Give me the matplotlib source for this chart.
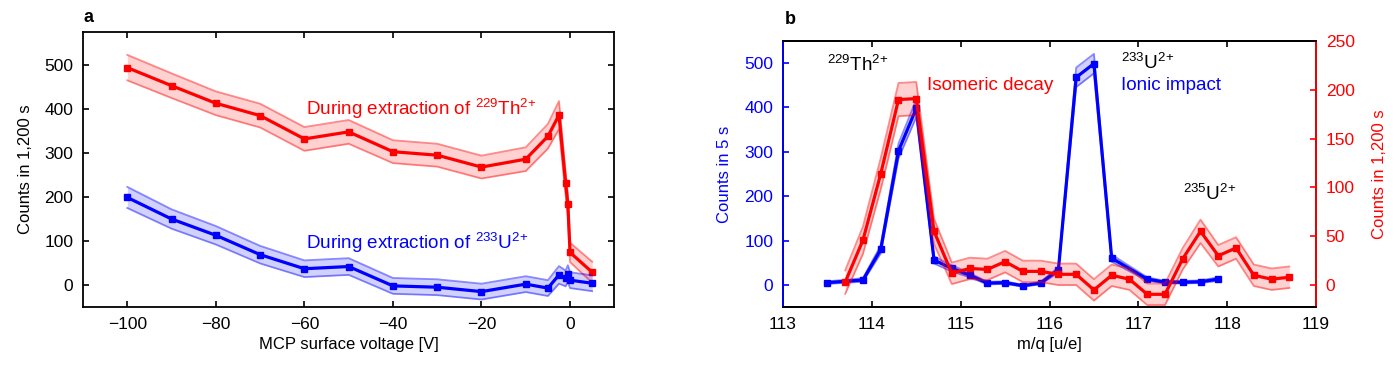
import numpy as np
import matplotlib.pyplot as plt

plt.rcParams['font.family'] = ['Liberation Sans', 'DejaVu Sans']
plt.rcParams['mathtext.fontset'] = 'custom'
plt.rcParams['mathtext.rm'] = 'Liberation Sans'
plt.rcParams['mathtext.it'] = 'Liberation Sans:italic'
plt.rcParams['mathtext.bf'] = 'Liberation Sans:bold'

RED = '#ff0000'
BLUE = '#0000ff'

# panel a: counts vs MCP surface voltage
volt = [-100, -90, -80, -70, -60, -50, -40, -30, -20, -10, -5, -2.5, -1, -0.5, 0, 5]
th_counts = [494, 453, 413, 385, 332, 348, 303, 295, 268, 286, 338, 386, 231, 184, 74, 29]
th_err = [29, 28, 27, 27, 27, 27, 26, 26, 26, 27, 28, 32, 27, 25, 22, 24]
u_counts = [199, 150, 113, 69, 37, 42, -2, -5, -15, 2, -7, 23, 15, 26, 11, 4]
u_err = [24, 22, 21, 20, 19, 19, 18, 18, 18, 18, 18, 20, 18, 19, 18, 18]

# panel b: mass scan
mq_blue = [113.5, 113.9, 114.1, 114.3, 114.5, 114.7, 114.9, 115.1, 115.3, 115.5, 115.7,
           115.9, 116.1, 116.3, 116.5, 116.7, 117.1, 117.3, 117.5, 117.7, 117.9]
ion_counts = [5, 11, 80, 302, 398, 56, 37, 22, 4, 5, -2, 4, 34, 468, 499, 60, 13, 6, 6, 7, 13]
ion_err = [3, 4, 9, 17, 20, 8, 7, 5, 3, 3, 2, 3, 6, 22, 22, 8, 4, 3, 3, 3, 4]

mq_red = [113.7, 113.9, 114.1, 114.3, 114.5, 114.7, 114.9, 115.1, 115.3, 115.5, 115.7,
          115.9, 116.1, 116.3, 116.5, 116.7, 116.9, 117.1, 117.3, 117.5, 117.7, 117.9,
          118.1, 118.3, 118.5, 118.7]
iso_counts = [3, 46, 114, 190, 191, 55, 12, 17, 16, 24, 14, 14, 11, 11, -5, 10, 6,
              -9.5, -9.5, 27, 55, 30, 38, 10, 6, 8]
iso_err = [12, 14, 16, 17, 17, 13, 11, 11, 11, 11, 11, 11, 11, 11, 11, 11, 11,
           11, 11, 11, 12, 11, 11, 11, 11, 11]


def band_line(ax, x, y, e, color):
    x = np.asarray(x)
    y = np.asarray(y, dtype=float)
    e = np.asarray(e, dtype=float)
    ax.fill_between(x, y - e, y + e, color=color, alpha=0.18, lw=0)
    ax.plot(x, y - e, color=color, alpha=0.45, lw=1.3)
    ax.plot(x, y + e, color=color, alpha=0.45, lw=1.3)
    ax.plot(x, y, color=color, lw=2.3, marker='s', ms=5, mec=color, mfc=color)


def iso(mass, sym):
    return r'$^{%d}$%s$^{2\!+}$' % (mass, sym)


fig = plt.figure(figsize=(14, 3.72), dpi=100)
TS = 12.5   # tick labels
NS = 13.6   # annotations

# ---- panel a
ax1 = fig.add_axes([0.0593, 0.1747, 0.3795, 0.7393])
band_line(ax1, volt, th_counts, th_err, RED)
band_line(ax1, volt, u_counts, u_err, BLUE)
ax1.set_xlim(-110, 10)
ax1.set_ylim(-50, 575)
ax1.set_xticks([-100, -80, -60, -40, -20, 0])
ax1.set_yticks([0, 100, 200, 300, 400, 500])
ax1.tick_params(direction='in', top=True, right=True, length=4, width=1.2,
                labelsize=TS, pad=7)
for s in ax1.spines.values():
    s.set_linewidth(1.3)
ax1.set_xlabel('MCP surface voltage [V]', fontsize=12)
ax1.set_ylabel('Counts in 1,200 s', fontsize=12, labelpad=8)
ax1.text(-59.7, 401, 'During extraction of ' + iso(229, 'Th'), color=RED,
         fontsize=NS, va='center', ha='left')
ax1.text(-59.7, 95, 'During extraction of ' + iso(233, 'U'), color=BLUE,
         fontsize=NS, va='center', ha='left')
fig.text(88 / 1400, 1 - 18 / 372, 'a', fontsize=13, fontweight='bold',
         ha='center', va='center')

# ---- panel b
ax2 = fig.add_axes([0.5593, 0.1747, 0.3807, 0.7151])
ax3 = ax2.twinx()
band_line(ax2, mq_blue, ion_counts, ion_err, BLUE)
band_line(ax3, mq_red, iso_counts, iso_err, RED)
ax2.set_xlim(113, 119)
ax2.set_ylim(-50, 550)
ax3.set_ylim(-22.5, 250)
ax2.set_xticks(range(113, 120))
ax2.set_yticks([0, 100, 200, 300, 400, 500])
ax3.set_yticks([0, 50, 100, 150, 200, 250])
ax2.tick_params(axis='x', direction='in', top=True, length=4, width=1.2,
                labelsize=TS, pad=7)
ax2.tick_params(axis='y', direction='in', length=4, width=1.2, labelsize=TS,
                colors=BLUE, pad=7)
ax3.tick_params(axis='y', direction='in', length=4, width=1.2, labelsize=TS,
                colors=RED, pad=7)
for a in (ax2, ax3):
    for s in a.spines.values():
        s.set_linewidth(1.3)
ax3.spines['left'].set_color(BLUE)
ax3.spines['right'].set_color(RED)
ax2.set_xlabel('m/q [u/e]', fontsize=12)
ax2.set_ylabel('Counts in 5 s', fontsize=12, color=BLUE, labelpad=9)
ax3.set_ylabel('Counts in 1,200 s', fontsize=12, color=RED, labelpad=12)

ax2.text(113.5, 495, iso(229, 'Th'), color='black', fontsize=NS,
         va='center', ha='left')
ax2.text(114.62, 449, 'Isomeric decay', color=RED, fontsize=NS,
         va='center', ha='left')
ax2.text(116.8, 500, iso(233, 'U'), color='black', fontsize=NS,
         va='center', ha='left')
ax2.text(116.8, 449, 'Ionic impact', color=BLUE, fontsize=NS,
         va='center', ha='left')
ax2.text(117.5, 205, iso(235, 'U'), color='black', fontsize=NS,
         va='center', ha='left')
fig.text(790 / 1400, 1 - 20 / 372, 'b', fontsize=13, fontweight='bold',
         ha='center', va='center')

fig.savefig('out.png', dpi=100)
